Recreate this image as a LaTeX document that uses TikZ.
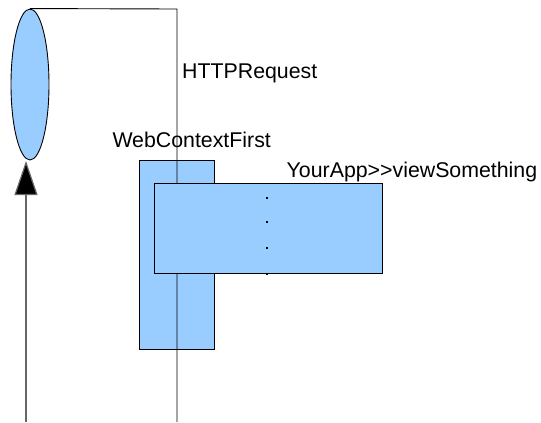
\documentclass[tikz,border=0pt]{standalone}
\usepackage{fontspec}
\setmainfont{Liberation Sans}
\usetikzlibrary{shapes.geometric,arrows.meta}
\definecolor{boxblue}{HTML}{99CCFF}
\begin{document}
\begin{tikzpicture}[x=1bp,y=-1bp,
  bluefill/.style={draw=black,fill=boxblue,line width=0.9bp},
  lbl/.style={font=\fontsize{21.4}{25}\selectfont,anchor=base west,inner sep=0pt},
  wire/.style={draw=black,line width=0.9bp},
  dotmark/.style={fill=black,minimum size=2bp,inner sep=0pt,draw=none}]
\useasboundingbox (0,0) rectangle (541,422);
% ellipse
\node[ellipse,bluefill,minimum width=38bp,minimum height=151bp,inner sep=0pt] (ell) at (30,84.5) {};
% outer box
\node[bluefill,rectangle,minimum width=75bp,minimum height=189bp,inner sep=0pt,anchor=north west] (outer) at (139.3,160.3) {};
% lifeline
\coordinate (corner) at (177,9);
\coordinate (lifebot) at (177,422);
\draw[wire] (ell.north) -- (corner) -- (lifebot);
% inner box
\node[bluefill,rectangle,minimum width=227.4bp,minimum height=90.3bp,inner sep=0pt,anchor=north west] (inner) at (154.3,183) {};
% dots
\node[dotmark] (d1) at (267.3,197.7) {};
\node[dotmark] (d2) at (267.3,222.3) {};
\node[dotmark] (d3) at (267.3,248.3) {};
\node[dotmark] (d4) at (267.3,274) {};
% arrow
\coordinate (abot) at (26,422);
\coordinate (atip) at (26,161);
\draw[draw=black!60,line width=1.2bp,-{Triangle[width=23bp,length=34bp,fill=black,line join=miter]}] (abot) -- (atip);
% labels
\node[lbl] (http) at (182,78) {HTTPRequest};
\node[lbl] (wcf) at (112.3,147) {WebContextFirst};
\node[lbl] (app) at (286.5,177) {YourApp>{}>viewSomething};
\end{tikzpicture}
\end{document}
